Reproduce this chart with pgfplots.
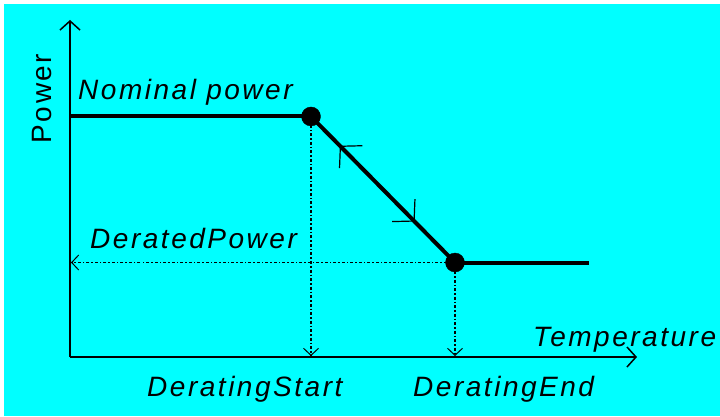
\documentclass[border=0pt]{standalone}
\usepackage{pgfplots}
\pgfplotsset{compat=1.18}
\usepackage{fontspec}
\setmainfont{Liberation Sans}
\newfontfamily\lbl[LetterSpace=9]{Liberation Sans}
\usetikzlibrary{arrows.meta,decorations.markings}
\definecolor{bgcyan}{HTML}{00FFFF}
\begin{document}
\begin{tikzpicture}[
  lbl/.style={font=\lbl\fontsize{28bp}{30bp}\selectfont\itshape, inner sep=0pt, anchor=base west},
  dotline/.style={black, line width=1.4bp, dash pattern=on 3bp off 2bp on 1.5bp off 2bp},
]
\begin{axis}[
  width=720bp, height=416bp, scale only axis,
  xmin=0, xmax=720, ymin=0, ymax=416,
  hide axis, clip=false,
]
% background
\fill[white] (axis cs:0,0) rectangle (axis cs:720,416);
\fill[bgcyan] (axis cs:4,0) rectangle (axis cs:720,412);
% axes
\addplot[black, line width=2bp, -{Straight Barb[length=9bp,width=20bp,line width=1.5bp]}] coordinates {(70,59) (70,396)};
\addplot[black, line width=2bp, -{Straight Barb[length=9bp,width=20bp,line width=1.5bp]}] coordinates {(70,59) (637,59)};
% dotted guide lines
\addplot[dotline, -{Straight Barb[length=7bp,width=15bp,line width=1bp]}] coordinates {(311,299.5) (311,60)};
\addplot[dotline, -{Straight Barb[length=7bp,width=15bp,line width=1bp]}] coordinates {(455,153.5) (455,60)};
\addplot[dotline, -{Straight Barb[length=7bp,width=15bp,line width=1bp]}] coordinates {(455,153.5) (71,153.5)};
% power curve
\addplot[black, line width=4bp] coordinates {(70,299.5) (311,299.5)};
\addplot[black, line width=4bp, postaction={decorate},
  decoration={markings,
    mark=at position 0.2 with {\arrowreversed{Straight Barb[length=15bp,width=32bp,line width=1.2bp]}},
    mark=at position 0.72 with {\arrow{Straight Barb[length=15bp,width=32bp,line width=1.2bp]}}}]
  coordinates {(311,299.5) (455,153.5)};
\addplot[black, line width=4bp] coordinates {(455,153.5) (589,153.5)};
\addplot[black, only marks, mark=*, mark size=9.5bp] coordinates {(311,299.5) (455,153.5)};
% labels
\node[font=\lbl\fontsize{28bp}{30bp}\selectfont, rotate=90, inner sep=0pt] at (axis cs:42.5,317.5) {Power};
\node[lbl] at (axis cs:78,316) {Nominal power};
\node[lbl] at (axis cs:90,168) {DeratedPower};
\node[lbl] at (axis cs:533,70) {Temperature};
\node[lbl] at (axis cs:147,20) {DeratingStart};
\node[lbl] at (axis cs:413,20) {DeratingEnd};
\end{axis}
\end{tikzpicture}
\end{document}
